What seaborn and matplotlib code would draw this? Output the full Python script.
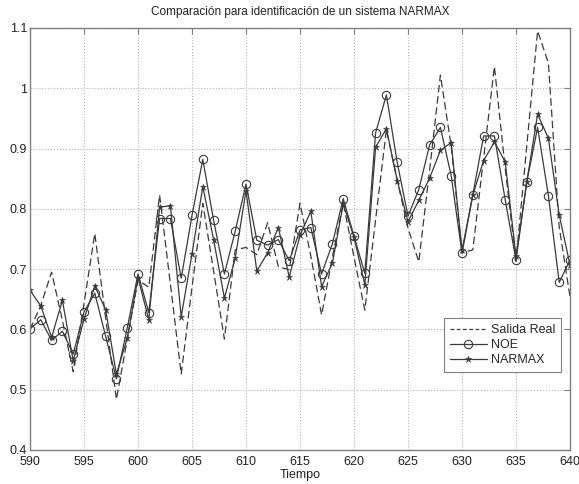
import matplotlib
matplotlib.use("Agg")
import matplotlib.pyplot as plt
import seaborn as sns
import pandas as pd
import numpy as np

tiempo = list(range(590, 641))

salida_real = [0.600, 0.640, 0.695, 0.615, 0.530, 0.643, 0.759, 0.620, 0.484, 0.583,
               0.682, 0.670, 0.823, 0.675, 0.526, 0.670, 0.809, 0.697, 0.584, 0.732,
               0.736, 0.724, 0.777, 0.704, 0.699, 0.809, 0.722, 0.624, 0.720, 0.810,
               0.720, 0.632, 0.782, 0.931, 0.848, 0.768, 0.712, 0.864, 1.022, 0.904,
               0.727, 0.732, 0.884, 1.036, 0.867, 0.713, 0.905, 1.095, 1.042, 0.770,
               0.654]

noe = [0.601, 0.616, 0.582, 0.597, 0.559, 0.629, 0.660, 0.589, 0.518, 0.602,
       0.692, 0.628, 0.784, 0.784, 0.685, 0.789, 0.882, 0.781, 0.692, 0.763,
       0.841, 0.748, 0.740, 0.749, 0.714, 0.765, 0.769, 0.692, 0.742, 0.817,
       0.755, 0.693, 0.926, 0.989, 0.877, 0.788, 0.832, 0.906, 0.935, 0.855,
       0.726, 0.823, 0.921, 0.921, 0.815, 0.715, 0.845, 0.935, 0.822, 0.678,
       0.715]

narmax = [0.665, 0.639, 0.587, 0.648, 0.548, 0.617, 0.672, 0.633, 0.526, 0.585,
          0.686, 0.616, 0.803, 0.805, 0.621, 0.725, 0.837, 0.749, 0.652, 0.718,
          0.830, 0.697, 0.727, 0.769, 0.687, 0.756, 0.796, 0.671, 0.710, 0.808,
          0.753, 0.674, 0.902, 0.933, 0.847, 0.779, 0.814, 0.851, 0.897, 0.910,
          0.731, 0.823, 0.880, 0.911, 0.878, 0.721, 0.845, 0.957, 0.917, 0.790,
          0.707]

labels = ["Salida Real", "NOE", "NARMAX"]
xticks = [590, 595, 600, 605, 610, 615, 620, 625, 630, 635, 640]
yticks = [0.4, 0.5, 0.6, 0.7, 0.8, 0.9, 1.0, 1.1]
ytick_labels = ["0.4", "0.5", "0.6", "0.7", "0.8", "0.9", "1", "1.1"]

df = pd.DataFrame({"Tiempo": tiempo, labels[0]: salida_real,
                   labels[1]: noe, labels[2]: narmax})

sns.set_style("white")
plt.rcParams["font.family"] = ["Liberation Sans", "DejaVu Sans"]

fig = plt.figure(figsize=(5.79, 4.84), dpi=100)
ax = fig.add_axes([30 / 579, 34 / 484, 540 / 579, 422 / 484])

lc = "#3a3a3a"
sns.lineplot(data=df, x="Tiempo", y=labels[0], ax=ax, color=lc, lw=0.9,
             label=labels[0], dashes=False)
ax.lines[-1].set_dashes((6, 3))
sns.lineplot(data=df, x="Tiempo", y=labels[1], ax=ax, color=lc, lw=0.9,
             marker="o", markersize=6, markerfacecolor="none",
             markeredgecolor=lc, markeredgewidth=0.8, label=labels[1])
sns.lineplot(data=df, x="Tiempo", y=labels[2], ax=ax, color=lc, lw=0.9,
             marker="*", markersize=5, markerfacecolor=lc,
             markeredgecolor=lc, markeredgewidth=0.4, label=labels[2])

ax.set_xlim(590, 640)
ax.set_ylim(0.4, 1.1)
ax.set_xticks(xticks)
ax.set_yticks(yticks)
ax.set_yticklabels(ytick_labels)
ax.grid(True, linestyle=":", color="#b5b5b5", lw=0.8)
ax.tick_params(direction="in", top=True, right=True, length=4, width=0.8,
               colors="#808080", labelcolor="#222222", labelsize=9, pad=2)
ax.tick_params(axis="x", pad=4)
for s in ax.spines.values():
    s.set_color("#808080")
    s.set_linewidth(1.0)

ax.set_xlabel("Tiempo", fontsize=9, color="#222222", labelpad=1)
ax.set_ylabel("")
ax.set_title("Comparación para identificación de un sistema NARMAX",
             fontsize=8.5, color="#222222", pad=9)

leg = ax.legend(loc="lower right", bbox_to_anchor=(0.983, 0.185),
                fontsize=9, frameon=True, fancybox=False, framealpha=1,
                edgecolor="#808080", borderaxespad=0, handlelength=3.0,
                labelspacing=0.25, borderpad=0.45, handletextpad=0.3)
leg.get_frame().set_linewidth(0.8)
leg.get_lines()[0].set_dashes((3, 2))

fig.savefig("out.png", dpi=100)
